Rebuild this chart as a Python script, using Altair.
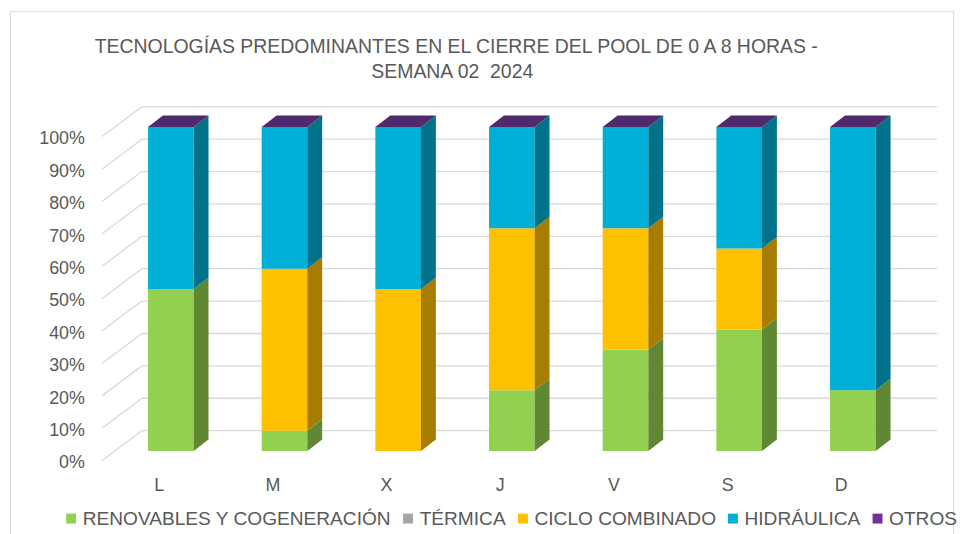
import altair as alt
import pandas as pd

# ---------------- data ----------------
dias = ["L", "M", "X", "J", "V", "S", "D"]
series = ["RENOVABLES Y COGENERACIÓN", "TÉRMICA", "CICLO COMBINADO", "HIDRÁULICA", "OTROS"]
renovables = [50.0, 6.25, 0.0, 18.75, 31.25, 37.5, 18.75]
termica = [0.0, 0.0, 0.0, 0.0, 0.0, 0.0, 0.0]
ciclo = [0.0, 50.0, 50.0, 50.0, 37.5, 25.0, 0.0]
hidraulica = [50.0, 43.75, 50.0, 31.25, 31.25, 37.5, 81.25]
otros = [0.0, 0.0, 0.0, 0.0, 0.0, 0.0, 0.0]
ticks_pct = [0, 10, 20, 30, 40, 50, 60, 70, 80, 90, 100]
titulo = ["TECNOLOGÍAS PREDOMINANTES EN EL CIERRE DEL POOL DE 0 A 8 HORAS -",
          "SEMANA 02 \u00a02024"]

# ---------------- styles ----------------
FONT = "Liberation Sans, Arial, sans-serif"
TXT = "#595959"
GRID = "#d9d9d9"
front_colors = ["#92d050", "#a5a5a5", "#ffc000", "#00afd6", "#7030a0"]
side_colors = ["#5f8734", "#6b6b6b", "#a67d00", "#00728a", "#4a2069"]
top_color = "#4f2b6e"

# ---------------- geometry (pseudo 3D) ----------------
W, H = 850, 375
PX_X = 114.63            # px per category
PX_Y = 3.266             # px per percent
ORIGIN_X = 160 - 100     # px of category 0 from plot left
ORIGIN_Y = 462 - 100     # px of 0% from plot top
x_dom = [-ORIGIN_X / PX_X, (W - ORIGIN_X) / PX_X]
y_dom = [(ORIGIN_Y - H) / PX_Y, ORIGIN_Y / PX_Y]
xs = alt.Scale(domain=x_dom, nice=False, zero=False)
ys = alt.Scale(domain=y_dom, nice=False, zero=False)

WALL_DX = 40 / PX_X
WALL_DY = 30 / PX_Y
X_FRONT = (103 - 160) / PX_X
X_RIGHT = (945 - 160) / PX_X
BAR_OFF_X = 12.2 / PX_X
BAR_OFF_Y = 9.5 / PX_Y
HALF = 23 / PX_X
DEPTH_X = 15 / PX_X
DEPTH_Y = 11.7 / PX_Y

# ---------------- build tables ----------------
vals = [renovables, termica, ciclo, hidraulica, otros]
front_rows, side_rows, top_rows = [], [], []
seg = 0
for i, d in enumerate(dias):
    cx = i + BAR_OFF_X
    lo = 0.0
    for k, s in enumerate(series):
        v = vals[k][i]
        if v > 0:
            y0, y1 = lo + BAR_OFF_Y, lo + v + BAR_OFF_Y
            front_rows.append({"x": cx - HALF, "x2": cx + HALF, "y": y0, "y2": y1,
                               "serie": s, "dia": d})
            side_rows.append({"seg": seg, "x": cx + HALF, "y": y0, "y2": y1, "c": side_colors[k]})
            side_rows.append({"seg": seg, "x": cx + HALF + DEPTH_X, "y": y0 + DEPTH_Y,
                              "y2": y1 + DEPTH_Y, "c": side_colors[k]})
            seg += 1
        lo += v
    t = lo + BAR_OFF_Y
    xl, xr = cx - HALF, cx + HALF
    for (px, pb, pt) in [(xl, t, t), (xl + DEPTH_X, t, t + DEPTH_Y),
                         (xr, t, t + DEPTH_Y), (xr + DEPTH_X, t + DEPTH_Y, t + DEPTH_Y)]:
        top_rows.append({"seg": i, "x": px, "y": pb, "y2": pt})

front_df = pd.DataFrame(front_rows)
side_df = pd.DataFrame(side_rows)
top_df = pd.DataFrame(top_rows)
grid_df = pd.DataFrame({"p": ticks_pct})
grid_df["pb"] = grid_df["p"] + WALL_DY
grid_df["xf"] = X_FRONT
grid_df["xb"] = X_FRONT + WALL_DX
grid_df["xr"] = X_RIGHT

label_js = "[" + ",".join("'" + d + "'" for d in dias) + "][datum.value]"

x_axis = alt.Axis(values=list(range(len(dias))), labelExpr=label_js,
                  domain=False, ticks=False, tickSize=0, grid=False, labelPadding=3.5,
                  labelFontSize=18, labelFont=FONT, labelColor=TXT, labelFlush=False,
                  labelOverlap=False, title=None)
y_axis = alt.Axis(values=ticks_pct, labelExpr="datum.value + '%'",
                  domain=False, ticks=False, tickSize=0, grid=False, labelPadding=15,
                  labelOffset=2.5,
                  labelFontSize=18, labelFont=FONT, labelColor=TXT, labelFlush=False,
                  labelOverlap=False, title=None)

# ---------------- layers ----------------
one = pd.DataFrame({"a": [0]})
border = alt.Chart(one).mark_rect(fill="transparent", stroke=GRID, strokeWidth=1).encode(
    x=alt.value(-89.5), x2=alt.value(861.5), y=alt.value(-90.5), y2=alt.value(460))

t1 = alt.Chart(pd.DataFrame({"t": [titulo[0]]})).mark_text(
    font=FONT, fontSize=19.6, color=TXT, align="center", baseline="alphabetic").encode(
    x=alt.value(360), y=alt.value(-48.5), text="t:N")
t2 = alt.Chart(pd.DataFrame({"t": [titulo[1]]})).mark_text(
    font=FONT, fontSize=19.6, color=TXT, align="center", baseline="alphabetic").encode(
    x=alt.value(356), y=alt.value(-23.5), text="t:N")

diag = alt.Chart(grid_df).mark_rule(color=GRID, strokeWidth=1.3).encode(
    x=alt.X("xf:Q", scale=xs, axis=x_axis), x2="xb:Q",
    y=alt.Y("p:Q", scale=ys, axis=y_axis), y2="pb:Q")

back = alt.Chart(grid_df).mark_rule(color=GRID, strokeWidth=1.3).encode(
    x=alt.X("xb:Q", scale=xs, axis=x_axis), x2="xr:Q",
    y=alt.Y("pb:Q", scale=ys, axis=y_axis))

front = alt.Chart(front_df).mark_rect().encode(
    x=alt.X("x:Q", scale=xs, axis=x_axis), x2="x2:Q",
    y=alt.Y("y:Q", scale=ys, axis=y_axis), y2="y2:Q",
    color=alt.Color("serie:N", scale=alt.Scale(domain=series, range=front_colors),
                    legend=alt.Legend(orient="none", legendX=-38, legendY=411,
                                      direction="horizontal", title=None,
                                      symbolType="square", symbolSize=100,
                                      symbolStrokeWidth=0, labelFontSize=19.3,
                                      labelFont=FONT, labelColor=TXT, labelOffset=2,
                                      columnPadding=6.8, padding=0, labelLimit=500)))

side = alt.Chart(side_df).mark_area(interpolate="linear").encode(
    x=alt.X("x:Q", scale=xs, axis=x_axis),
    y=alt.Y("y:Q", scale=ys, axis=y_axis, stack=None), y2="y2:Q",
    fill=alt.Fill("c:N", scale=None), detail="seg:N")

top = alt.Chart(top_df).mark_area(interpolate="linear", color=top_color).encode(
    x=alt.X("x:Q", scale=xs, axis=x_axis),
    y=alt.Y("y:Q", scale=ys, axis=y_axis, stack=None), y2="y2:Q",
    detail="seg:N")

chart = alt.layer(border, t1, t2, diag, back, front, side, top).properties(
    width=W, height=H,
    autosize=alt.AutoSizeParams(type="none"),
    padding={"left": 92, "top": 92, "right": 16, "bottom": 59},
    background="white",
).configure_view(stroke=None)

chart.save("out.html", embed_options={"renderer": "svg", "actions": False})
